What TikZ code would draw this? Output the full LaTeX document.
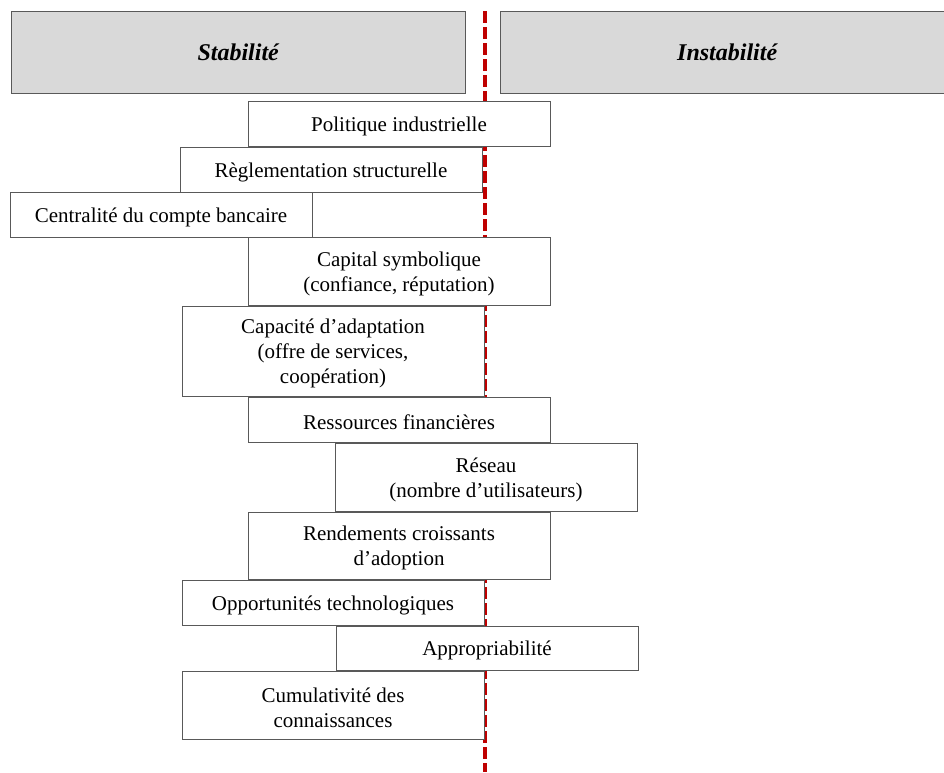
\documentclass[tikz,border=0pt]{standalone}
\usepackage{fontspec}
\setmainfont{Liberation Serif}

% room above the first line, as in the boxes of the reference
\newcommand{\haut}{\rule{0pt}{20pt}}

\tikzset{
  regime/.style={draw=black!65, fill=black!15, anchor=north west, minimum width=454pt,
    minimum height=82pt, inner sep=0pt, font=\fontsize{24}{28}\selectfont\bfseries\itshape},
  facteur/.style={draw=black!65, fill=white, anchor=north west, minimum width=302pt,
    inner sep=0pt, outer sep=0pt, align=center, font=\fontsize{21}{25}\selectfont},
  frontiere/.style={draw=red!75!black, line width=4pt, dash pattern=on 12pt off 4pt}
}

\begin{document}
\begin{tikzpicture}[x=1pt,y=-1pt]
          \useasboundingbox (0,0) rectangle (944,772);
          % the dashed border between the two regimes
          \coordinate (haut) at (485,11);
          \coordinate (bas) at (485,772);
          \draw[frontiere] (haut) -- (bas);
          % two headers
          \node[regime] (stabilite) at (11,11) {Stabilité};
          \node[regime] (instabilite) at (500,11) {Instabilité};
          % and eleven factors
          \node[facteur, minimum height=45pt] (politique) at (248,101) {\haut Politique industrielle};
          \node[facteur, minimum height=45pt] (reglementation) at (180,147) {\haut Règlementation structurelle};
          \node[facteur, minimum height=45pt] (centralite) at (10,192) {\haut Centralité du compte bancaire};
          \node[facteur, minimum height=68pt] (capital) at (248,237) {\haut Capital symbolique\\(confiance, réputation)};
          \node[facteur, minimum height=90pt] (capacite) at (182,306) {\haut Capacité d’adaptation\\(offre de services,\\coopération)};
          \node[facteur, minimum height=45pt] (ressources) at (248,397) {\haut Ressources financières};
          \node[facteur, minimum height=68pt] (reseau) at (335,443) {\haut Réseau\\(nombre d’utilisateurs)};
          \node[facteur, minimum height=67pt] (rendements) at (248,512) {\haut Rendements croissants\\d’adoption};
          \node[facteur, minimum height=45pt] (opportunites) at (182,580) {\haut Opportunités technologiques};
          \node[facteur, minimum height=44pt] (appropriabilite) at (336,626) {\haut Appropriabilité};
          \node[facteur, minimum height=68pt] (cumulativite) at (182,671) {\haut Cumulativité des\\connaissances};
        \end{tikzpicture}
\end{document}
